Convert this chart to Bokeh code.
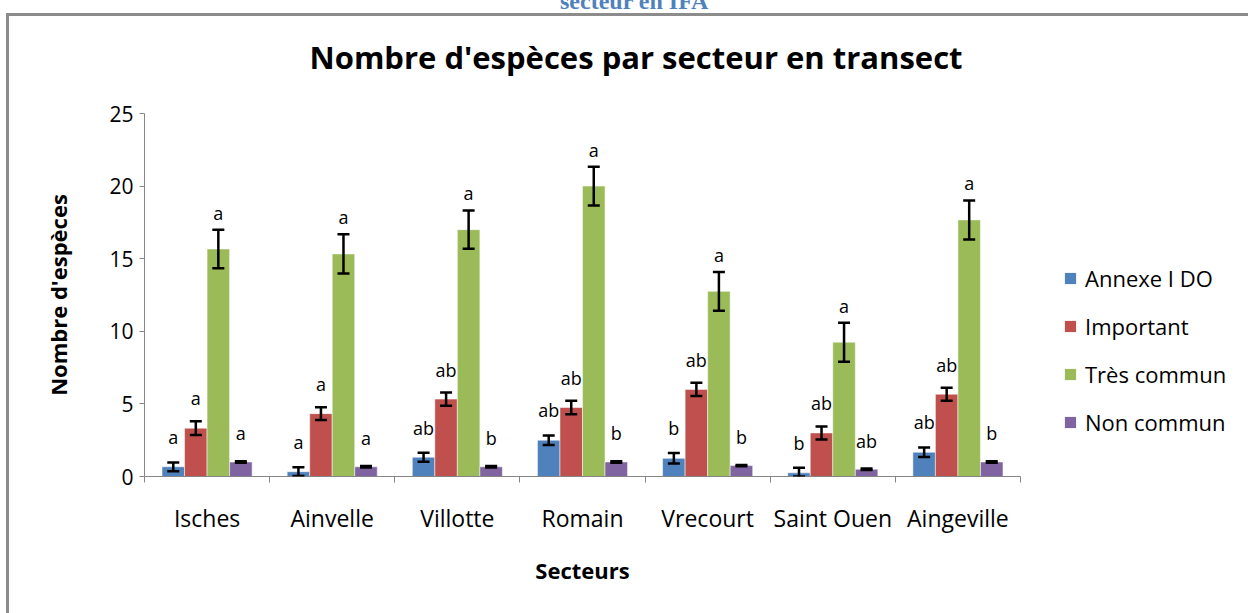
from bokeh.plotting import figure
from bokeh.models import (ColumnDataSource, Range1d, FixedTicker, Whisker, TeeHead,
                          LabelSet, Legend, LegendItem, Div, Title)
from bokeh.core.properties import value
from bokeh.layouts import column, row
from bokeh.embed import file_html
from bokeh.resources import INLINE

# ---- data ----
categories = ["Isches", "Ainvelle", "Villotte", "Romain", "Vrecourt", "Saint Ouen", "Aingeville"]
series_names = ["Annexe I DO", "Important", "Très commun", "Non commun"]

annexe = [0.67, 0.33, 1.33, 2.5, 1.25, 0.25, 1.67]
annexe_err = [0.3, 0.3, 0.31, 0.33, 0.36, 0.35, 0.33]
annexe_sig = ["a", "a", "ab", "ab", "b", "b", "ab"]

important = [3.33, 4.33, 5.33, 4.75, 6.0, 3.0, 5.67]
important_err = [0.47, 0.44, 0.45, 0.46, 0.46, 0.45, 0.45]
important_sig = ["a", "a", "ab", "ab", "ab", "ab", "ab"]

tres = [15.67, 15.33, 17.0, 20.0, 12.75, 9.25, 17.67]
tres_err = [1.32, 1.35, 1.32, 1.34, 1.34, 1.34, 1.34]
tres_sig = ["a", "a", "a", "a", "a", "a", "a"]

non = [1.0, 0.67, 0.67, 1.0, 0.75, 0.5, 1.0]
non_err = [0.05, 0.05, 0.05, 0.05, 0.05, 0.05, 0.05]
non_sig = ["a", "a", "b", "b", "b", "ab", "b"]

y_ticks = [0, 5, 10, 15, 20, 25]

# ---- styles ----
colors = ["#4F81BD", "#C0504D", "#9BBB59", "#8064A2"]
offsets = [-0.27, -0.09, 0.09, 0.27]
bar_w = 0.18
label_pad = [13, 11, 5, 16]
FONT = "Open Sans"

p = figure(width=1031, height=597, output_backend="svg", toolbar_location=None,
           x_range=Range1d(0, len(categories)), y_range=Range1d(0, 25),
           min_border_left=135, min_border_right=20, min_border_top=97, min_border_bottom=137)
p.outline_line_color = None
p.xgrid.visible = False
p.ygrid.visible = False

# spacer (nearest the frame) then the chart title above it
p.add_layout(Title(text=" ", text_font_size="1px", standoff=28), "above")
p.add_layout(Title(text="Nombre d'espèces par secteur en transect", text_font=FONT,
                   text_font_size="31px", text_font_style="bold", text_color="black",
                   align="left", offset=165, standoff=10), "above")

series = [
    (annexe, annexe_err, annexe_sig),
    (important, important_err, important_sig),
    (tres, tres_err, tres_sig),
    (non, non_err, non_sig),
]

for k, (vals, errs, sigs) in enumerate(series):
    xs = [i + 0.5 + offsets[k] for i in range(len(categories))]
    src = ColumnDataSource(dict(
        x=xs, top=vals,
        upper=[v + e for v, e in zip(vals, errs)],
        lower=[max(v - e, 0) for v, e in zip(vals, errs)],
        sig=sigs))
    p.vbar(x="x", top="top", width=bar_w, source=src, fill_color=colors[k],
           line_color="white", line_alpha=0.5, line_width=1)
    w = Whisker(source=src, base="x", upper="upper", lower="lower", dimension="height",
                line_color="black", line_width=2.5, level="overlay",
                upper_head=TeeHead(size=12, line_width=2.5, line_color="black"),
                lower_head=TeeHead(size=12, line_width=2.5, line_color="black"))
    p.add_layout(w)
    ls = LabelSet(source=src, x="x", y="upper", text="sig", text_align="center",
                  text_baseline="bottom", y_offset=label_pad[k], text_font=value(FONT),
                  text_font_size="18px", text_color="black")
    p.add_layout(ls)

# x axis: labels at centers, ticks at boundaries
centers = [i + 0.5 for i in range(len(categories))]
p.xaxis.ticker = FixedTicker(ticks=centers, minor_ticks=list(range(len(categories) + 1)))
p.xaxis.major_label_overrides = {c: name for c, name in zip(centers, categories)}
p.xaxis.major_tick_out = 0
p.xaxis.major_tick_in = 0
p.xaxis.minor_tick_out = 6
p.xaxis.minor_tick_in = 0
p.xaxis.axis_line_color = "#868686"
p.xaxis.minor_tick_line_color = "#868686"
p.xaxis.major_label_text_font = FONT
p.xaxis.major_label_text_font_size = "23px"
p.xaxis.major_label_text_color = "black"
p.xaxis.major_label_standoff = 19
p.xaxis.axis_label = "Secteurs"
p.xaxis.axis_label_text_font = FONT
p.xaxis.axis_label_text_font_size = "22px"
p.xaxis.axis_label_text_font_style = "bold"
p.xaxis.axis_label_text_color = "black"
p.xaxis.axis_label_standoff = 18

p.yaxis.ticker = FixedTicker(ticks=y_ticks)
p.yaxis.minor_tick_line_color = None
p.yaxis.major_tick_out = 5
p.yaxis.major_tick_in = 0
p.yaxis.axis_line_color = "#868686"
p.yaxis.major_tick_line_color = "#868686"
p.yaxis.major_label_text_font = FONT
p.yaxis.major_label_text_font_size = "21px"
p.yaxis.major_label_text_color = "black"
p.yaxis.major_label_standoff = 6
p.yaxis.axis_label = "Nombre d'espèces"
p.yaxis.axis_label_text_font = FONT
p.yaxis.axis_label_text_font_size = "22px"
p.yaxis.axis_label_text_font_style = "bold"
p.yaxis.axis_label_text_color = "black"
p.yaxis.axis_label_standoff = 33

# legend panel: a plain figure holding only the legend
pl = figure(width=208, height=597, output_backend="svg", toolbar_location=None,
            x_range=Range1d(0, 1), y_range=Range1d(0, 1), x_axis_type=None, y_axis_type=None,
            min_border=0)
pl.outline_line_color = None
items = []
nan = float("nan")
for k, name in enumerate(series_names):
    proxy = pl.vbar(x=[nan], top=[nan], width=0.1, fill_color=colors[k], line_color=None)
    items.append(LegendItem(label=name, renderers=[proxy]))
legend = Legend(items=items, location=(23, 39), glyph_width=14, glyph_height=14,
                label_text_font=FONT, label_text_font_size="22px", spacing=18,
                label_standoff=8, padding=0, margin=0, border_line_color=None,
                background_fill_alpha=0, label_text_color="black")
pl.add_layout(legend)

chart = row(p, pl, spacing=0,
            styles={"border-top": "3px solid #8c8c8c", "border-left": "3px solid #8c8c8c",
                    "margin-left": "6px"})

head = Div(text="<div style='position:relative; top:-16px; line-height:16px; white-space:nowrap;'>secteur en IFA</div>",
           width=1248, height=13, margin=0,
           styles={"overflow": "hidden", "font-family": "Liberation Serif", "font-weight": "bold",
                   "font-size": "24px", "color": "#4F81BD", "padding-left": "560px",
                   "box-sizing": "border-box"})

layout = column(head, chart, spacing=0)
open("out.html", "w").write(file_html(layout, INLINE))
